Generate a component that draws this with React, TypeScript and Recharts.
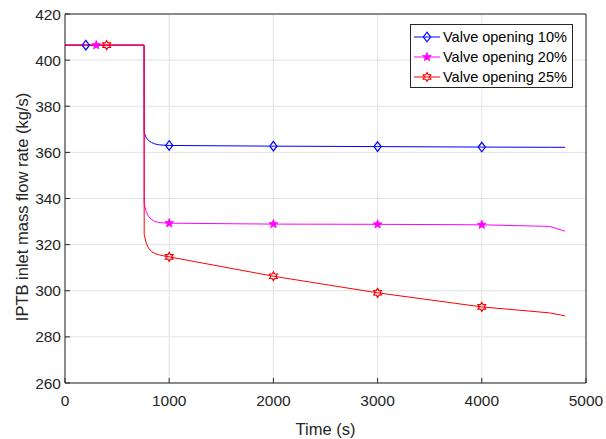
import React from "react";
import { LineChart, Line, XAxis, YAxis, CartesianGrid, Legend } from "recharts";

const times = [0, 200, 300, 400, 759, 760, 780, 800, 830, 860, 900, 950, 1000, 2000, 3000, 4000, 4650, 4800];
const valve10 = [406.5, 406.5, 406.5, 406.5, 406.5, 368.5, 366.4, 365.2, 364.3, 363.7, 363.3, 363.1, 363.0, 362.7, 362.5, 362.3, 362.2, 362.2];
const valve20 = [406.5, 406.5, 406.5, 406.5, 406.5, 337.6, 334.4, 332.4, 330.9, 330.1, 329.6, 329.4, 329.3, 328.9, 328.8, 328.6, 327.9, 325.8];
const valve25 = [406.5, 406.5, 406.5, 406.5, 406.5, 324.3, 320.6, 318.6, 317.0, 316.2, 315.6, 315.1, 314.7, 306.3, 299.1, 293.0, 290.4, 289.1];

const marks10 = [200, 1000, 2000, 3000, 4000];
const marks20 = [300, 1000, 2000, 3000, 4000];
const marks25 = [400, 1000, 2000, 3000, 4000];

const seriesNames = ["Valve opening 10%", "Valve opening 20%", "Valve opening 25%"];
const seriesColors = ["#0000ff", "#ff00ff", "#ff0000"];

const xTicks = [0, 1000, 2000, 3000, 4000, 5000];
const yTicks = [260, 280, 300, 320, 340, 360, 380, 400, 420];

const build = (vals: number[], marks: number[]) =>
  times.map((t, i) => ({ t, v: vals[i], m: marks.includes(t) }));

const data10 = build(valve10, marks10);
const data20 = build(valve20, marks20);
const data25 = build(valve25, marks25);

const AXIS = "#262626";
const FONT = "'Liberation Sans', Arial, sans-serif";

function Diamond({ cx, cy, color }: { cx: number; cy: number; color: string }) {
  return (
    <path
      d={`M${cx},${cy - 4.8} L${cx + 3.6},${cy} L${cx},${cy + 4.8} L${cx - 3.6},${cy} Z`}
      fill="none"
      stroke={color}
      strokeWidth={1.2}
    />
  );
}

function Star({ cx, cy, color }: { cx: number; cy: number; color: string }) {
  const pts: string[] = [];
  for (let i = 0; i < 10; i++) {
    const r = i % 2 === 0 ? 4.6 : 2.0;
    const a = -Math.PI / 2 + (i * Math.PI) / 5;
    pts.push(`${cx + r * Math.cos(a)},${cy + r * Math.sin(a)}`);
  }
  return <polygon points={pts.join(" ")} fill={color} stroke={color} strokeWidth={0.8} />;
}

function Hexagram({ cx, cy, color }: { cx: number; cy: number; color: string }) {
  const pts: string[] = [];
  for (let i = 0; i < 12; i++) {
    const r = i % 2 === 0 ? 4.4 : 2.6;
    const a = -Math.PI / 2 + (i * Math.PI) / 6;
    pts.push(`${cx + r * Math.cos(a)},${cy + r * Math.sin(a)}`);
  }
  return <polygon points={pts.join(" ")} fill="none" stroke={color} strokeWidth={1.2} />;
}

const markers = [Diamond, Star, Hexagram];

const makeDot = (idx: number) => (props: any) => {
  const { cx, cy, payload, index } = props;
  const M = markers[idx];
  if (!payload || !payload.m) return <g key={`d${idx}-${index}`} />;
  return (
    <g key={`d${idx}-${index}`}>
      <M cx={cx} cy={cy} color={seriesColors[idx]} />
    </g>
  );
};

function LegendBox() {
  return (
    <div
      style={{
        background: "#fff",
        border: `1px solid ${AXIS}`,
        fontFamily: FONT,
        fontSize: 14.5,
        color: "#000",
        padding: "2px 4px 0 3px",
        width: 154,
        boxSizing: "content-box",
      }}
    >
      {seriesNames.map((name, i) => {
        const M = markers[i];
        return (
          <div key={name} style={{ display: "flex", alignItems: "center", height: 20, whiteSpace: "nowrap" }}>
            <svg width={26} height={14} style={{ marginRight: 3, flex: "none" }}>
              <line x1={0} y1={7} x2={26} y2={7} stroke={seriesColors[i]} strokeWidth={1} />
              <M cx={13} cy={7} color={seriesColors[i]} />
            </svg>
            <span>{name}</span>
          </div>
        );
      })}
    </div>
  );
}

const YLabel = () => (
  <text
    transform="translate(22,207) rotate(-90)"
    textAnchor="middle"
    dominantBaseline="central"
    fill={AXIS}
    fontSize={16.5}
    fontFamily={FONT}
  >
    IPTB inlet mass flow rate (kg/s)
  </text>
);

export default function App() {
  return (
    <div style={{ position: "absolute", left: 0, top: 0, width: 606, height: 439, background: "#fff" }}>
      <LineChart width={606} height={439} margin={{ top: 14, right: 20, bottom: 4, left: 15 }}>
        <CartesianGrid stroke="#e3e3e3" strokeWidth={1} />
        <XAxis
          dataKey="t"
          type="number"
          domain={[0, 5000]}
          ticks={xTicks}
          allowDataOverflow
          height={52}
          stroke={AXIS}
          tickSize={-5}
          tickMargin={17}
          tick={{ fill: AXIS, fontSize: 15.5, fontFamily: FONT }}
          label={{ value: "Time (s)", position: "insideBottom", offset: 0, fill: AXIS, fontSize: 16.5, fontFamily: FONT }}
        />
        <XAxis
          xAxisId="top"
          orientation="top"
          dataKey="t"
          type="number"
          domain={[0, 5000]}
          ticks={xTicks}
          allowDataOverflow
          mirror
          tick={false}
          tickSize={5}
          stroke={AXIS}
        />
        <YAxis
          type="number"
          domain={[260, 420]}
          ticks={yTicks}
          allowDataOverflow
          width={50}
          stroke={AXIS}
          tickSize={-5}
          tickMargin={9}
          tick={{ fill: AXIS, fontSize: 15.5, fontFamily: FONT }}
          label={<YLabel />}
        />
        <YAxis
          yAxisId="right"
          orientation="right"
          type="number"
          domain={[260, 420]}
          ticks={yTicks}
          allowDataOverflow
          mirror
          tick={false}
          tickSize={5}
          stroke={AXIS}
        />
        <Line data={data10} dataKey="v" name={seriesNames[0]} stroke={seriesColors[0]} strokeWidth={1} dot={makeDot(0)} isAnimationActive={false} />
        <Line data={data20} dataKey="v" name={seriesNames[1]} stroke={seriesColors[1]} strokeWidth={1} dot={makeDot(1)} isAnimationActive={false} />
        <Line data={data25} dataKey="v" name={seriesNames[2]} stroke={seriesColors[2]} strokeWidth={1} dot={makeDot(2)} isAnimationActive={false} />
        <Legend
          layout="vertical"
          align="center"
          verticalAlign="middle"
          wrapperStyle={{ left: 410, top: 24, width: 164 }}
          content={() => <LegendBox />}
        />
      </LineChart>
    </div>
  );
}
